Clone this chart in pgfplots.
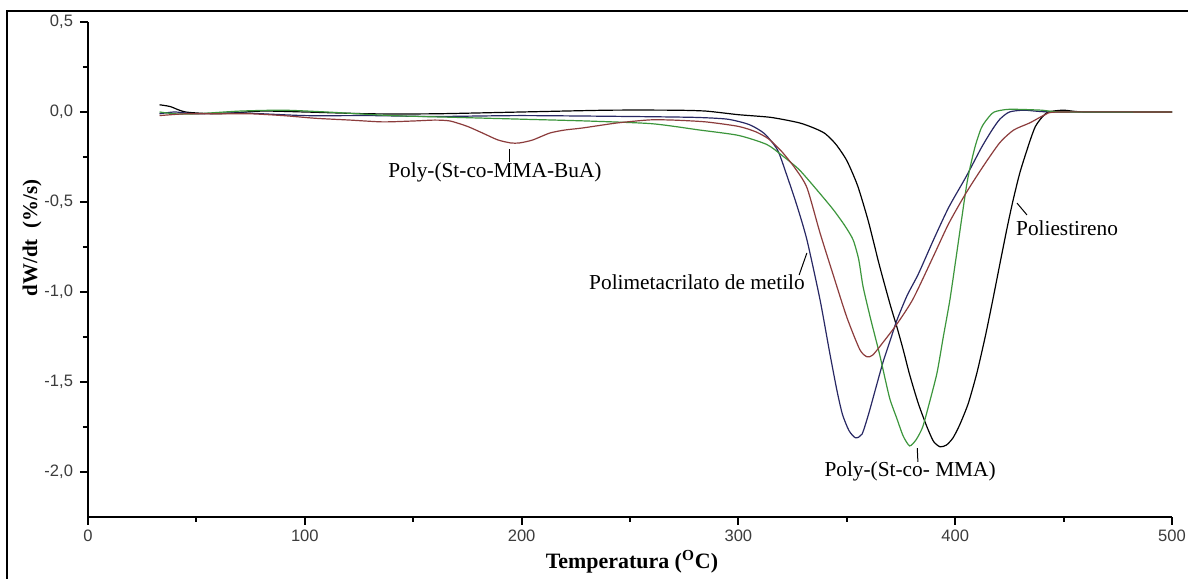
\documentclass[border=0pt]{standalone}
\usepackage{pgfplots}
\pgfplotsset{compat=1.18}
\usepackage{fontspec}
\setmainfont{Liberation Serif}
\newfontfamily\arial{Liberation Sans}
\definecolor{cnavy}{RGB}{40,40,100}
\definecolor{cgreen}{RGB}{60,150,60}
\definecolor{cbrown}{RGB}{140,60,60}
\definecolor{ctick}{RGB}{60,60,60}

\pgfplotstableread{
x y
33 0.04
38 0.03
45 0.0
60 -0.01
80 0.005
100 0.0
130 -0.01
160 -0.01
200 0.0
240 0.01
270 0.01
285 0.005
300 -0.015
315 -0.03
328 -0.06
335 -0.09
340 -0.12
345 -0.18
350 -0.27
355 -0.41
360 -0.61
365 -0.85
370 -1.07
373 -1.19
376 -1.32
379 -1.46
383 -1.62
387 -1.75
390 -1.83
393 -1.86
396 -1.85
399 -1.81
402 -1.74
406 -1.62
410 -1.45
414 -1.24
417.4 -1.04
421 -0.82
424 -0.64
426.7 -0.49
430 -0.33
434.5 -0.16
437 -0.08
440 -0.03
443 0.0
450 0.01
460 0.0
500 0.0
}\tblPS

\pgfplotstableread{
x y
33 -0.01
40 0.0
50 -0.01
70 -0.005
100 -0.02
130 -0.02
160 -0.025
200 -0.02
250 -0.025
280 -0.03
295 -0.04
305 -0.07
312 -0.12
318 -0.21
322 -0.34
327 -0.52
331.6 -0.71
337.6 -1.04
342 -1.33
345.5 -1.55
348 -1.68
351 -1.77
354 -1.81
357 -1.79
360 -1.68
363 -1.55
366.7 -1.39
370 -1.27
373 -1.16
377.8 -1.02
383 -0.90
390 -0.71
397 -0.53
405 -0.36
412 -0.20
417 -0.10
420.6 -0.04
425 0.0
432 0.01
445 0.0
500 0.0
}\tblPMMA

\pgfplotstableread{
x y
33 0.0
40 -0.01
50 -0.01
70 0.005
90 0.01
110 0.0
140 -0.02
170 -0.03
200 -0.04
230 -0.05
260 -0.065
282 -0.1
300 -0.13
313 -0.18
320 -0.24
328 -0.32
336 -0.43
343.6 -0.54
349 -0.63
352.9 -0.71
355.5 -0.82
357.5 -0.97
361 -1.15
365 -1.34
368 -1.5
370 -1.6
373 -1.7
376 -1.8
379 -1.855
382 -1.82
385 -1.75
388 -1.62
391.6 -1.45
394.5 -1.25
397.6 -1.04
401 -0.76
405.5 -0.39
409 -0.2
412 -0.09
414.7 -0.04
418 0.0
425 0.015
440 0.01
450 0.0
500 0.0
}\tblSM

\pgfplotstableread{
x y
33 -0.02
45 -0.01
60 -0.01
75 -0.01
90 -0.02
105 -0.035
121 -0.045
136 -0.055
150 -0.05
160 -0.045
167 -0.05
175 -0.08
182 -0.117
189 -0.155
195 -0.172
199 -0.172
205 -0.156
213 -0.117
220 -0.1
228 -0.089
244 -0.061
259 -0.044
270 -0.045
285 -0.055
300 -0.08
308 -0.11
314 -0.15
320 -0.22
326 -0.31
331.6 -0.42
337.6 -0.67
343.6 -0.9
350 -1.14
356 -1.32
359.3 -1.36
362 -1.35
366.7 -1.28
373 -1.18
380.5 -1.04
390 -0.8
397 -0.62
405 -0.45
413 -0.3
420.6 -0.17
427 -0.1
434.5 -0.06
441.5 -0.015
448 0.0
500 0.0
}\tblSMB

\begin{document}
\begin{tikzpicture}
\path[use as bounding box] (0,0) rectangle (594bp,289.5bp);
\clip (0,0) rectangle (594bp,289.5bp);
\fill[white] (0,0) rectangle (594bp,289.5bp);
\draw[line width=1.2bp] (3.5bp,-20bp) rectangle (620bp,284bp);
\begin{axis}[
  at={(44bp,31bp)}, anchor=south west,
  scale only axis, width=542bp, height=247.5bp,
  xmin=0, xmax=500, ymin=-2.25, ymax=0.5,
  axis lines*=left,
  axis line style={line width=1bp},
  tick align=outside,
  major tick length=4bp, minor tick length=2.5bp,
  tick style={line width=1bp, black},
  xtick={0,100,200,300,400,500}, minor xtick={50,150,250,350,450},
  ytick={-2,-1.5,-1,-0.5,0,0.5}, minor ytick={-1.75,-1.25,-0.75,-0.25,0.25},
  xticklabels={0,100,200,300,400,500},
  yticklabels={{-2,0},{-1,5},{-1,0},{-0,5},{0,0},{0,5}},
  ticklabel style={font=\arial\fontsize{8.3}{9}\selectfont, text=ctick},
  xticklabel style={yshift=1bp},
  clip=false,
]
\addplot[black, line width=0.6bp, smooth, tension=0.4] table {\tblPS};
\addplot[cnavy, line width=0.6bp, smooth, tension=0.4] table {\tblPMMA};
\addplot[cgreen, line width=0.6bp, smooth, tension=0.4] table {\tblSM};
\addplot[cbrown, line width=0.6bp, smooth, tension=0.4] table {\tblSMB};

\node[font=\fontsize{10.7}{12}\selectfont] at (axis cs:187.7,-0.333) {Poly-(St-co-MMA-BuA)};
\draw[line width=0.5bp] (axis cs:194.2,-0.206) -- (axis cs:194.2,-0.278);
\node[font=\fontsize{10.7}{12}\selectfont] at (axis cs:280.9,-0.944) {Polimetacrilato de metilo};
\draw[line width=0.5bp] (axis cs:328,-0.906) -- (axis cs:331.6,-0.783);
\node[font=\fontsize{10.7}{12}\selectfont] at (axis cs:451.6,-0.644) {Poliestireno};
\draw[line width=0.5bp] (axis cs:433.1,-0.572) -- (axis cs:428.5,-0.506);
\node[font=\fontsize{10.7}{12}\selectfont] at (axis cs:379.2,-1.994) {Poly-(St-co- MMA)};
\draw[line width=0.5bp] (axis cs:382.5,-1.867) -- (axis cs:382.8,-1.944);

\node[rotate=90, font=\bfseries\fontsize{10.5}{12}\selectfont] at (axis cs:-25.8,-0.70) {dW/dt\ \ (\%/s)};
\node[font=\bfseries\fontsize{11}{13}\selectfont] at (axis cs:250.9,-2.50) {Temperatura (\textsuperscript{O}C)};
\end{axis}
\end{tikzpicture}
\end{document}
